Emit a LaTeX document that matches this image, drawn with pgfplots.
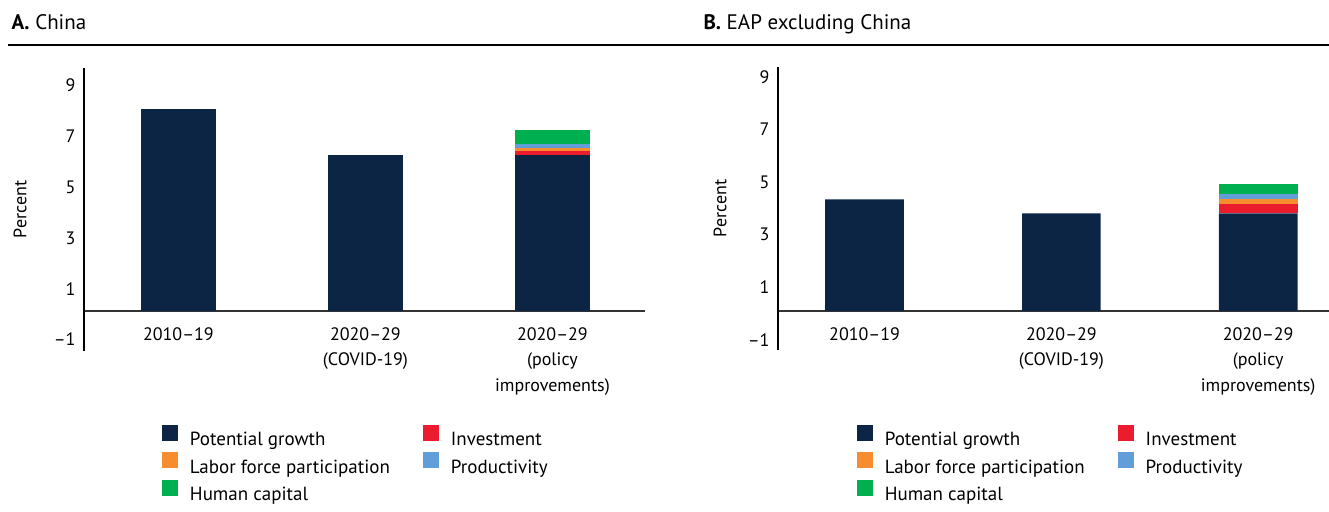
\documentclass[border=0pt]{standalone}
\usepackage{fontspec}
\setmainfont{PT Sans}
\usepackage{pgfplots}
\pgfplotsset{compat=1.18}
\definecolor{cnavy}{HTML}{0D2544}
\definecolor{cred}{HTML}{EB1C2D}
\definecolor{corange}{HTML}{F68D2E}
\definecolor{cblue}{HTML}{619ED9}
\definecolor{cgreen}{HTML}{00AF50}
\newcommand{\fs}{\fontsize{18bp}{25.5bp}\selectfont}
\newcommand{\fl}{\fontsize{19bp}{23bp}\selectfont}

\pgfplotsset{
  panel/.style={
    scale only axis,
    height=283bp,
    ybar stacked,
    bar width=0.4,
    clip=false,
    axis x line=middle,
    axis y line=left,
    axis line style={-},
    x axis line style={line width=1.5bp, black!80},
    y axis line style={line width=1.2bp, black},
    major tick length=0pt,
    xtick={0,1,2},
    xticklabels={2010--19, 2020--29\\(COVID-19), 2020--29\\(policy\\improvements)},
    ytick={-1,1,3,5,7,9},
    yticklabels={--1,1,3,5,7,9},
    tick label style={font=\fs},
    xticklabel style={align=center, anchor=north, yshift=-13bp},
    yticklabel style={xshift=-5bp, yshift=-3bp},
    ylabel={Percent},
    ylabel style={font=\fs, anchor=center},
    legend columns=2,
    legend cell align=left,
    legend image code/.code={\fill[#1] (0bp,-1bp) rectangle (16bp,15bp);},
    legend style={draw=none, font=\fl, inner sep=0pt, outer sep=0pt, anchor=north west,
      nodes={inner sep=0pt}, row sep=5bp,
      /tikz/every odd column/.append style={column sep=12bp},
      /tikz/every even column/.append style={column sep=33bp}},
    every axis plot/.append style={draw=none},
  }
}

\begin{document}
\begin{tikzpicture}
\useasboundingbox (0,0) rectangle (1329bp,512bp);

\node[anchor=base west, font=\fontsize{21bp}{25bp}\selectfont] at (8bp,482bp) {\textbf{A.} China};
\node[anchor=base west, font=\fontsize{21bp}{25bp}\selectfont] at (700bp,482bp) {\textbf{B.} EAP excluding China};
\draw[line width=1.5bp] (8bp,467bp) -- (1329bp,467bp);

% Panel A: China
\begin{axis}[panel, at={(84bp,161bp)}, anchor=south west,
  width=561bp, xmin=-0.505, xmax=2.495, ymin=-1.57, ymax=9.57,
  ylabel style={at={(axis description cs:-0.114,0.5)}},
  legend style={at={(0.139,-0.26)}}]
\addplot[fill=cnavy] coordinates {(0,7.95) (1,6.14) (2,6.14)};
\addlegendentry{Potential growth}
\addplot[fill=cred] coordinates {(0,0) (1,0) (2,0.16)};
\addlegendentry{Investment}
\addplot[fill=corange] coordinates {(0,0) (1,0) (2,0.12)};
\addlegendentry{Labor force participation}
\addplot[fill=cblue] coordinates {(0,0) (1,0) (2,0.16)};
\addlegendentry{Productivity}
\addplot[fill=cgreen] coordinates {(0,0) (1,0) (2,0.55)};
\addlegendentry{Human capital}
\end{axis}

% Panel B: EAP excluding China
\begin{axis}[panel, at={(778bp,162bp)}, anchor=south west,
  width=551bp, xmin=-0.44, xmax=2.36, ymin=-1.49, ymax=9.26,
  ylabel style={at={(axis description cs:-0.105,0.5)}},
  legend style={at={(0.143,-0.264)}}]
\addplot[fill=cnavy] coordinates {(0,4.23) (1,3.70) (2,3.70)};
\addlegendentry{Potential growth}
\addplot[fill=cred] coordinates {(0,0) (1,0) (2,0.34)};
\addlegendentry{Investment}
\addplot[fill=corange] coordinates {(0,0) (1,0) (2,0.19)};
\addlegendentry{Labor force participation}
\addplot[fill=cblue] coordinates {(0,0) (1,0) (2,0.19)};
\addlegendentry{Productivity}
\addplot[fill=cgreen] coordinates {(0,0) (1,0) (2,0.38)};
\addlegendentry{Human capital}
\end{axis}
\end{tikzpicture}
\end{document}
